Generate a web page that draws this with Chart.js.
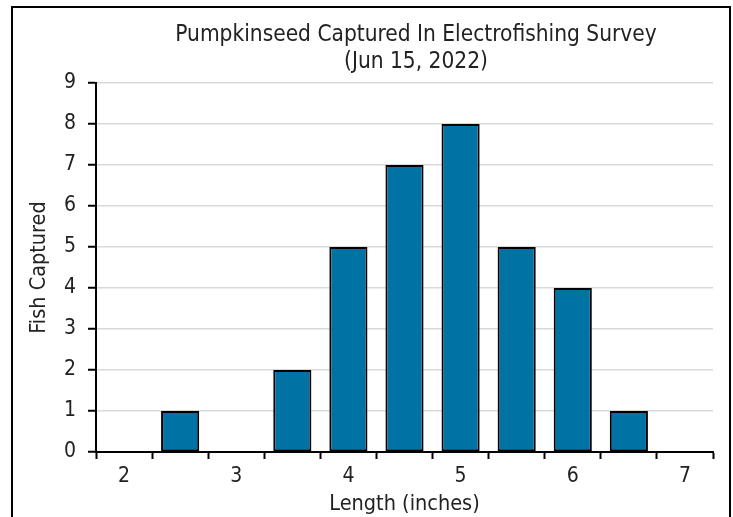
<!DOCTYPE html>
<html>
<head>
<meta charset="utf-8">
<script src="https://cdn.jsdelivr.net/npm/chart.js@4"></script>
<style>
  html, body { margin: 0; padding: 0; background: #fff; }
  #wrap { position: relative; width: 733px; height: 517px; overflow: hidden; }
  #frame { position: absolute; left: 11px; top: 6px; width: 716px; height: 600px; border: 2px solid #000; }
  #title { position: absolute; left: 116px; width: 600px; top: 20px; text-align: center;
           font-family: "DejaVu Sans Condensed", "Liberation Sans Narrow", sans-serif; font-stretch: condensed;
           font-size: 22.5px; line-height: 27px; color: #222; }
  canvas { position: absolute; left: 0; top: 0; }
</style>
</head>
<body>
<div id="wrap">
  <div id="frame"></div>
  <canvas id="chart" width="733" height="517"></canvas>
  <div id="title">Pumpkinseed Captured In Electrofishing Survey<br>(Jun 15, 2022)</div>
</div>
<script>
const lengths = ["2", "2.5", "3", "3.5", "4", "4.5", "5", "5.5", "6", "6.5", "7"];
const fishCaptured = [null, 1, null, 2, 5, 7, 8, 5, 4, 1, null];
const yTicks = [0, 1, 2, 3, 4, 5, 6, 7, 8, 9];

const font = "'DejaVu Sans Condensed', 'Liberation Sans Narrow', sans-serif";

new Chart(document.getElementById("chart").getContext("2d"), {
  type: "bar",
  data: {
    labels: lengths,
    datasets: [{
      label: "Fish Captured",
      data: fishCaptured,
      backgroundColor: "#0072a3",
      borderColor: "#000",
      borderWidth: 2,
      borderSkipped: false,
      barPercentage: 0.68,
      categoryPercentage: 1
    }]
  },
  options: {
    responsive: false,
    animation: false,
    layout: { padding: { left: 12, right: 20, top: 83, bottom: 0 } },
    plugins: { legend: { display: false }, title: { display: false }, tooltip: { enabled: false } },
    scales: {
      x: {
        offset: true,
        grid: { offset: true, drawOnChartArea: false, drawTicks: true, tickLength: 7, tickColor: "#000", tickWidth: 2 },
        border: { display: true, color: "#000", width: 2 },
        ticks: {
          autoSkip: false, maxRotation: 0, padding: 5, color: "#222",
          font: { family: font, size: 21 },
          callback: (v, i) => i % 2 === 0 ? lengths[i] : ""
        },
        title: { display: true, text: "Length (inches)", color: "#222", font: { family: font, size: 21.5 }, padding: { top: -6, bottom: 0 } },
        afterFit: s => { s.height = 65; }
      },
      y: {
        min: yTicks[0], max: yTicks[yTicks.length - 1],
        afterBuildTicks: s => { s.ticks = yTicks.map(v => ({ value: v })); },
        grid: { color: "#d9d9d9", lineWidth: 1.5, tickColor: "#000", tickLength: 8, tickWidth: 2 },
        border: { display: true, color: "#000", width: 2 },
        ticks: { padding: 12, color: "#222", font: { family: font, size: 21 } },
        title: { display: true, text: "Fish Captured", color: "#222", font: { family: font, size: 21.5 }, padding: { top: 15, bottom: 0 } },
        afterFit: s => { s.width = 84; }
      }
    }
  }
});
</script>
</body>
</html>
